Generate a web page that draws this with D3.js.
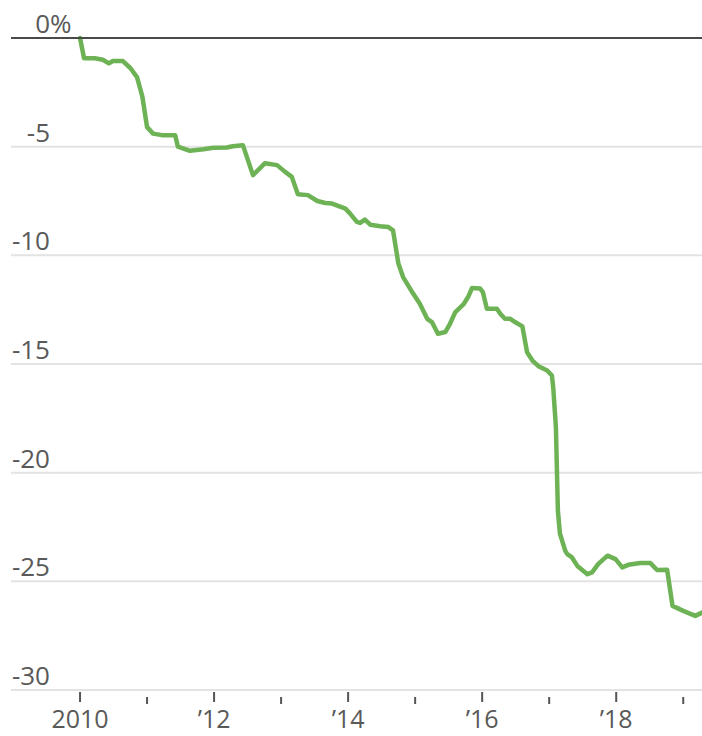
<!DOCTYPE html>
<html>
<head>
<meta charset="utf-8">
<script src="https://cdn.jsdelivr.net/npm/d3@7"></script>
<style>
  html, body { margin: 0; padding: 0; background: #fff; }
  svg { display: block; }
  .lbl { font-family: "Open Sans", "Noto Sans", sans-serif; font-size: 26px; fill: #595959; }
  .xl { font-size: 25px; }
</style>
</head>
<body>
<svg id="chart" width="702" height="736"></svg>
<script>
// Cumulative change since 2010 (percent), sampled through time (decimal years)
const years = [
  2010.00, 2010.06, 2010.22, 2010.34, 2010.43, 2010.49, 2010.64, 2010.75, 2010.85, 2010.93,
  2011.00, 2011.09, 2011.22, 2011.42, 2011.46, 2011.64, 2011.84, 2011.99, 2012.19, 2012.28,
  2012.43, 2012.58, 2012.76, 2012.94, 2013.06, 2013.16, 2013.25, 2013.40, 2013.54, 2013.66,
  2013.76, 2013.96, 2014.03, 2014.13, 2014.18, 2014.25, 2014.33, 2014.48, 2014.60, 2014.67,
  2014.75, 2014.82, 2014.97, 2015.07, 2015.18, 2015.25, 2015.34, 2015.45, 2015.52, 2015.60,
  2015.72, 2015.79, 2015.85, 2015.97, 2016.01, 2016.07, 2016.22, 2016.27, 2016.34, 2016.42,
  2016.49, 2016.60, 2016.67, 2016.75, 2016.84, 2016.97, 2017.04, 2017.06, 2017.10, 2017.13,
  2017.16, 2017.24, 2017.27, 2017.34, 2017.42, 2017.57, 2017.64, 2017.73, 2017.87, 2017.99,
  2018.09, 2018.18, 2018.36, 2018.51, 2018.61, 2018.76, 2018.84, 2019.00, 2019.18, 2019.28
];
const change = [
    0.00,  -0.93,  -0.93,  -1.00,  -1.17,  -1.06,  -1.06,  -1.38,  -1.80,  -2.70,
   -4.10,  -4.40,  -4.47,  -4.47,  -5.00,  -5.19,  -5.12,  -5.05,  -5.04,  -4.98,
   -4.93,  -6.31,  -5.76,  -5.85,  -6.16,  -6.39,  -7.19,  -7.23,  -7.50,  -7.59,
   -7.62,  -7.85,  -8.08,  -8.46,  -8.51,  -8.36,  -8.59,  -8.66,  -8.70,  -8.85,
  -10.38, -11.00, -11.76, -12.23, -12.92, -13.07, -13.61, -13.53, -13.15, -12.61,
  -12.26, -11.92, -11.50, -11.53, -11.69, -12.46, -12.46, -12.69, -12.92, -12.92,
  -13.07, -13.27, -14.46, -14.84, -15.10, -15.30, -15.53, -16.07, -17.90, -21.75,
  -22.80, -23.60, -23.75, -23.90, -24.29, -24.67, -24.59, -24.21, -23.82, -23.98,
  -24.36, -24.24, -24.16, -24.16, -24.48, -24.47, -26.13, -26.36, -26.59, -26.44
];
const yTicks = [0, -5, -10, -15, -20, -25, -30];
const majorYears = [2010, 2012, 2014, 2016, 2018];
const minorYears = [2011, 2013, 2015, 2017, 2019];
const yearLabels = ["2010", "\u201912", "\u201914", "\u201916", "\u201918"];

const svg = d3.select("#chart");
const left = 11, right = 702;

const x = d3.scaleLinear().domain([2008.97, 2019.28]).range([left, right]);
const y = d3.scaleLinear().domain([0, -30]).range([38, 690]);

// Horizontal gridlines
svg.append("g").selectAll("line")
  .data(yTicks.filter(d => d !== 0))
  .join("line")
  .attr("x1", left).attr("x2", right)
  .attr("y1", d => y(d)).attr("y2", d => y(d))
  .attr("stroke", "#e3e3e3").attr("stroke-width", 2);

// Y labels: numbers right-aligned (plain hyphen), percent sign trailing on the top label
const yl = svg.append("g");
yl.selectAll("text.num")
  .data(yTicks)
  .join("text")
  .attr("class", "lbl num")
  .attr("x", 50).attr("y", d => y(d) - 5)
  .attr("text-anchor", "end")
  .text(d => String(d));
yl.append("text")
  .attr("class", "lbl")
  .attr("x", 50).attr("y", y(0) - 5)
  .attr("text-anchor", "start")
  .text("%");

// X axis ticks
const ax = svg.append("g");
ax.selectAll("line.major")
  .data(majorYears)
  .join("line")
  .attr("x1", d => x(d)).attr("x2", d => x(d))
  .attr("y1", 692).attr("y2", 702)
  .attr("stroke", "#555").attr("stroke-width", 2);
ax.selectAll("line.minor")
  .data(minorYears)
  .join("line")
  .attr("x1", d => x(d)).attr("x2", d => x(d))
  .attr("y1", 697).attr("y2", 704)
  .attr("stroke", "#555").attr("stroke-width", 2);
ax.selectAll("text")
  .data(majorYears)
  .join("text")
  .attr("class", "lbl xl")
  .attr("x", d => x(d)).attr("y", 728)
  .attr("text-anchor", "middle")
  .text((d, i) => yearLabels[i]);

// Series line
const pts = years.map((t, i) => [t, change[i]]);
svg.append("path")
  .datum(pts)
  .attr("fill", "none")
  .attr("stroke", "#6db355")
  .attr("stroke-width", 4.5)
  .attr("stroke-linejoin", "round")
  .attr("stroke-linecap", "round")
  .attr("d", d3.line().x(d => x(d[0])).y(d => y(d[1])));

// Zero baseline on top
svg.append("line")
  .attr("x1", left).attr("x2", right)
  .attr("y1", y(0)).attr("y2", y(0))
  .attr("stroke", "#4a4a4a").attr("stroke-width", 2);
</script>
</body>
</html>
